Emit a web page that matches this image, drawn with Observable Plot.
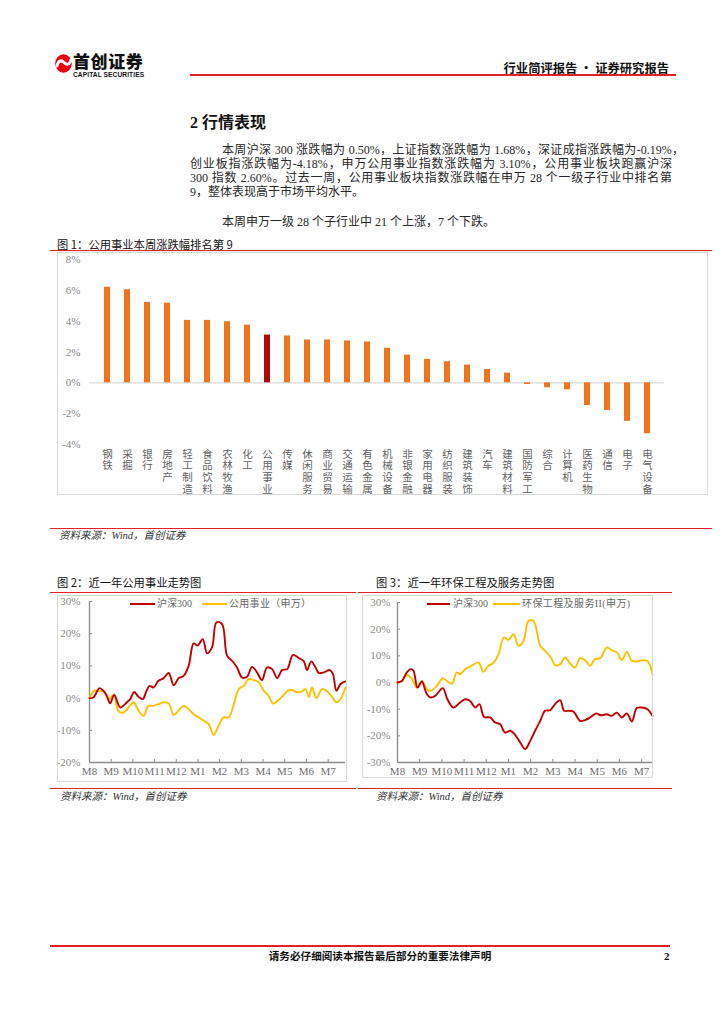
<!DOCTYPE html>
<html><head><meta charset="utf-8">
<script src="https://cdn.jsdelivr.net/npm/d3@7"></script>
<script src="https://cdn.jsdelivr.net/npm/@observablehq/plot@0.6"></script>
<style>
html,body{margin:0;padding:0;background:#fff;}
body{width:724px;height:1024px;position:relative;overflow:hidden;font-family:"Liberation Serif","Noto Sans CJK SC",serif;color:#222;}
.abs{position:absolute;white-space:nowrap;}
.rule{position:absolute;background:#e61e28;}
.frame{position:absolute;border:1px solid #d9d9d9;box-sizing:border-box;pointer-events:none;}
.plot{position:absolute;}
.para{position:absolute;font-size:12px;line-height:14px;height:14px;white-space:nowrap;color:#262626;}
.just{text-align:justify;text-align-last:justify;}
.figt{position:absolute;font-family:"Noto Sans CJK SC",sans-serif;font-size:11.3px;line-height:16px;color:#111;white-space:nowrap;}
.cap{position:absolute;font-size:10.5px;line-height:14px;font-style:italic;color:#333;white-space:nowrap;}
.leg{position:absolute;font-size:10px;line-height:12px;color:#666;white-space:nowrap;}
.sw{position:absolute;height:2px;}
</style>
</head><body>

<!-- header -->
<svg class="abs" style="left:52px;top:48px" width="22" height="28" viewBox="52 48 22 28">
  <ellipse cx="63.5" cy="63.5" rx="8.3" ry="9.3" fill="#e60012"/>
  <path d="M57 66 Q59 58 64 62.5 Q68.5 67 71 60" stroke="#fff" stroke-width="3" fill="none" stroke-linecap="round"/>
</svg>
<div class="abs" style="left:73px;top:51px;font-family:'Noto Sans CJK SC';font-weight:900;font-size:17px;line-height:20px;letter-spacing:0.6px;color:#111;">首创证券</div>
<div class="abs" style="left:73px;top:70px;font-family:'Liberation Sans';font-weight:bold;font-size:6.6px;line-height:9px;color:#111;letter-spacing:0.1px;">CAPITAL SECURITIES</div>
<div class="rule" style="left:190px;top:73.5px;width:486px;height:2.2px;"></div>
<div class="abs" style="right:55px;top:60px;font-family:'Noto Sans CJK SC';font-weight:bold;font-size:12.3px;line-height:16px;color:#111;">行业简评报告 · 证券研究报告</div>

<!-- section -->
<div class="abs" style="left:190px;top:114px;font-family:'Liberation Serif','Noto Sans CJK SC';font-weight:bold;font-size:16px;line-height:18px;color:#111;">2 行情表现</div>
<div class="para just" style="left:222px;top:143px;width:462px;">本周沪深 300 涨跌幅为 0.50%，上证指数涨跌幅为 1.68%，深证成指涨跌幅为-0.19%，</div>
<div class="para just" style="left:190px;top:157px;width:482px;">创业板指涨跌幅为-4.18%，申万公用事业指数涨跌幅为 3.10%，公用事业板块跑赢沪深</div>
<div class="para just" style="left:190px;top:171px;width:482px;">300 指数 2.60%。过去一周，公用事业板块指数涨跌幅在申万 28 个一级子行业中排名第</div>
<div class="para" style="left:190px;top:185px;">9，整体表现高于市场平均水平。</div>
<div class="para" style="left:222px;top:215px;">本周申万一级 28 个子行业中 21 个上涨，7 个下跌。</div>

<!-- figure 1 -->
<div class="figt" style="left:57px;top:236px;">图 1：公用事业本周涨跌幅排名第 9</div>
<div class="rule" style="left:50px;top:249.5px;width:662px;height:1.5px;"></div>
<div class="plot" id="bar" style="left:57px;top:252px;"></div>
<div class="frame" style="left:57px;top:252px;width:651px;height:243px;"></div>
<div class="rule" style="left:50px;top:527.5px;width:662px;height:1.3px;"></div>
<div class="cap" style="left:59px;top:529px;">资料来源：Wind，首创证券</div>

<!-- figure 2 -->
<div class="figt" style="left:57px;top:574px;">图 2：近一年公用事业走势图</div>
<div class="rule" style="left:50px;top:591.8px;width:306px;height:1.4px;"></div>
<div class="plot" id="line2" style="left:57px;top:595px;"></div>
<div class="frame" style="left:57px;top:595px;width:290px;height:187px;"></div>
<div class="sw" style="left:130px;top:602.5px;width:25px;background:#c00000;"></div>
<div class="leg" style="left:157px;top:597.5px;">沪深300</div>
<div class="sw" style="left:202px;top:602.5px;width:25px;background:#ffc000;"></div>
<div class="leg" style="left:229px;top:597.5px;letter-spacing:0.3px;">公用事业（申万）</div>
<div class="rule" style="left:50px;top:788px;width:306px;height:1.4px;"></div>
<div class="cap" style="left:60px;top:790px;">资料来源：Wind，首创证券</div>

<!-- figure 3 -->
<div class="figt" style="left:376px;top:574px;">图 3：近一年环保工程及服务走势图</div>
<div class="rule" style="left:358px;top:591.8px;width:314px;height:1.4px;"></div>
<div class="plot" id="line3" style="left:362px;top:595px;"></div>
<div class="frame" style="left:362px;top:595px;width:291px;height:183px;"></div>
<div class="sw" style="left:427px;top:602.5px;width:23px;background:#c00000;"></div>
<div class="leg" style="left:453px;top:597.5px;">沪深300</div>
<div class="sw" style="left:493px;top:602.5px;width:27px;background:#ffc000;"></div>
<div class="leg" style="left:522px;top:597.5px;letter-spacing:0.4px;">环保工程及服务II(申万)</div>
<div class="rule" style="left:358px;top:788px;width:314px;height:1.4px;"></div>
<div class="cap" style="left:376px;top:790px;">资料来源：Wind，首创证券</div>

<!-- footer -->
<div class="rule" style="left:50px;top:944.5px;width:620px;height:2.6px;"></div>
<div class="abs" style="left:262px;top:949px;width:236px;text-align:center;font-family:'Noto Sans CJK SC';font-weight:bold;font-size:10.6px;line-height:14px;color:#111;">请务必仔细阅读本报告最后部分的重要法律声明</div>
<div class="abs" style="left:664px;top:949px;font-weight:bold;font-size:11px;line-height:14px;color:#111;">2</div>

<script>
// ---------- Figure 1 data ----------
const barCategories = ["钢铁","采掘","银行","房地产","轻工制造","食品饮料","农林牧渔","化工","公用事业","传媒","休闲服务","商业贸易","交通运输","有色金属","机械设备","非银金融","家用电器","纺织服装","建筑装饰","汽车","建筑材料","国防军工","综合","计算机","医药生物","通信","电子","电气设备"];
const barValues = [6.20,6.04,5.22,5.17,4.05,4.05,3.96,3.74,3.10,3.04,2.78,2.78,2.72,2.65,2.24,1.80,1.52,1.37,1.15,0.87,0.63,-0.11,-0.32,-0.45,-1.47,-1.79,-2.50,-3.30];
const highlightCategory = "公用事业";
const barYTicks = [-4,-2,0,2,4,6,8];

// ---------- Figure 2 / 3 shared ----------
const monthTicks = [0,1,2,3,4,5,6,7,8,9,10,11];
const monthLabels = ["M8","M9","M10","M11","M12","M1","M2","M3","M4","M5","M6","M7"];

// ---------- Figure 2 data (x in months from M8) ----------
const f2HsX = [0,0.18,0.46,0.65,0.80,0.95,1.14,1.42,1.72,1.88,2.06,2.26,2.46,2.62,2.77,2.95,3.18,3.42,3.65,3.88,4.11,4.34,4.57,4.80,4.98,5.22,5.42,5.65,5.85,6.11,6.34,6.57,6.80,7.03,7.26,7.49,7.72,7.95,8.18,8.42,8.65,8.88,9.11,9.38,9.65,9.88,10.03,10.22,10.42,10.57,10.80,11.08,11.22,11.38,11.57,11.80];
const f2HsY = [0,0.2,3.1,2.2,0.7,-1.6,1.0,-2.9,-1.3,-0.3,1.9,0.4,-0.3,2.1,3.8,3.3,5.4,6.2,7.8,4.0,6.2,6.9,10.0,17.0,16.3,18.3,13.9,15.8,23.5,23.0,13.2,11.6,9.5,6.4,6.6,9.7,8.0,5.6,9.5,9.0,6.2,8.7,9.0,13.4,12.4,11.4,8.7,11.4,9.5,7.8,8.0,8.7,7.5,2.3,4.4,5.2];
const f2UtX = [0,0.22,0.42,0.65,0.88,1.11,1.34,1.57,1.80,2.03,2.26,2.49,2.72,2.95,3.18,3.42,3.65,3.88,4.11,4.34,4.57,4.80,5.03,5.26,5.49,5.72,5.95,6.18,6.42,6.65,6.88,7.11,7.34,7.57,7.80,8.03,8.26,8.46,8.68,8.92,9.14,9.34,9.57,9.80,9.95,10.11,10.26,10.46,10.72,10.92,11.15,11.38,11.57,11.80];
const f2UtY = [0,2.3,2.1,2.1,-0.3,1.0,-4.1,-4.5,-2.9,-1.3,-3.9,-5.5,-2.4,-2.4,-1.9,-1.3,-1.7,-5.2,-3.9,-2.4,-3.4,-5.0,-6.0,-7.0,-8.1,-11.4,-8.6,-6.0,-6.0,-1.9,2.8,3.8,5.9,5.6,4.9,2.3,0.7,-1.7,-0.8,0.7,2.3,2.5,1.8,2.1,2.8,0.4,3.3,0.0,2.8,2.3,0.7,-1.3,-0.3,3.3];
const f2YTicks = [-20,-10,0,10,20,30];

// ---------- Figure 3 data ----------
const f3HsX = [0,0.20,0.42,0.60,0.72,0.90,1.10,1.29,1.47,1.70,2.04,2.25,2.52,2.82,3.05,3.27,3.50,3.69,3.90,4.17,4.40,4.62,4.85,5.08,5.30,5.53,5.75,5.98,6.20,6.43,6.65,6.88,7.10,7.33,7.51,7.70,7.93,8.23,8.45,8.68,8.95,9.16,9.43,9.65,9.88,10.11,10.33,10.56,10.78,11.01,11.26,11.49];
const f3HsY = [0,0.6,3.8,5.0,4.4,-1.9,0.4,-3.8,-5.6,-5.0,-2.1,-6.3,-9.4,-7.5,-6.3,-6.9,-9.4,-8.1,-12.9,-13.1,-15.0,-15.6,-18.8,-18.1,-19.6,-22.5,-25.0,-21.9,-18.1,-14.4,-10.6,-10.4,-8.1,-6.6,-10.6,-10.6,-10.9,-14.4,-14.1,-13.1,-11.6,-12.3,-11.9,-12.5,-11.3,-13.1,-11.6,-14.6,-9.6,-9.4,-10.0,-12.5];
const f3EnvX = [0,0.20,0.42,0.65,0.87,1.10,1.32,1.50,1.77,2.04,2.22,2.45,2.67,2.82,3.05,3.27,3.65,3.87,4.10,4.32,4.55,4.80,5.00,5.23,5.45,5.68,5.90,6.13,6.43,6.65,6.91,7.10,7.33,7.55,7.78,8.00,8.23,8.45,8.68,8.90,9.13,9.43,9.65,9.88,10.11,10.33,10.56,10.78,11.08,11.26,11.38,11.49];
const f3EnvY = [0,0.6,2.9,1.3,-1.9,0.6,-2.5,-3.1,-1.3,1.6,0.6,-0.4,3.8,3.1,5.0,5.9,7.5,4.0,6.3,7.3,10.6,16.9,16.0,18.1,13.8,15.6,23.1,23.1,13.8,11.9,9.4,6.5,6.9,9.4,7.1,5.6,9.1,8.4,6.3,8.8,9.1,13.1,12.1,11.3,8.4,11.5,8.1,7.9,8.4,8.1,6.3,2.9];
const f3YTicks = [-30,-20,-10,0,10,20,30];

const RED = "#c00000", YELLOW = "#ffc000", ORANGE = "#ee7420", DARKRED = "#ae0a0a";
const AXIS_GRAY = "#8c8c8c";
const SERIF = '"Liberation Serif","Noto Sans CJK SC",serif';
const CJK = '"Noto Sans CJK SC",sans-serif';

// ---------- Figure 1 ----------
const barData = barCategories.map((c, i) => ({cat: c, value: barValues[i], kind: c === highlightCategory ? "hl" : "base"}));
const bar = Plot.plot({
  width: 651, height: 242,
  marginTop: 7, marginBottom: 50, marginLeft: 32, marginRight: 44,
  style: {fontFamily: SERIF, fontSize: "11px", background: "transparent", overflow: "visible"},
  x: {domain: barCategories, paddingInner: 0.71, paddingOuter: 0.36, label: null},
  y: {domain: [barYTicks[0], barYTicks[barYTicks.length-1]], label: null},
  color: {domain: ["base","hl"], range: [ORANGE, DARKRED]},
  marks: [
    Plot.ruleY([0], {stroke: "#d9d9d9", strokeWidth: 1.2}),
    Plot.barY(barData, {x: "cat", y: "value", fill: "kind"}),
    Plot.axisY({ticks: barYTicks, tickSize: 0, tickPadding: 9, tickFormat: d => d + "%", fill: "#8a8a8a", fontSize: 11, fontFamily: SERIF, label: null}),
    Plot.axisX({tickSize: 0, tickPadding: 4, fill: "#5f5f5f", fontSize: 10.5, fontFamily: CJK, label: null})
  ]
});
// category labels are written top-to-bottom, one character per line, as in the reference
d3.select(bar).selectAll('g[aria-label="x-axis tick label"] text')
  .attr("y", null).attr("dy", null)
  .attr("text-anchor", "start")
  .style("writing-mode", "vertical-rl")
  .style("letter-spacing", "1.2px");
document.getElementById("bar").append(bar);

// ---------- line chart builder ----------
function lineChart({width, height, mt, mb, ml, mr, series, yTicks, xStart, yPad}) {
  const marks = [
    Plot.ruleY([yTicks[0]], {stroke: AXIS_GRAY, strokeWidth: 1.3}),
    Plot.ruleX([xStart], {stroke: AXIS_GRAY, strokeWidth: 1.3}),
    Plot.axisX({ticks: monthTicks, tickSize: -3, tickPadding: 7.5, tickFormat: d => monthLabels[d], stroke: AXIS_GRAY, fill: "#6e6e6e", fontSize: 11, fontFamily: SERIF, label: null}),
    Plot.axisY({ticks: yTicks, tickSize: -3, tickPadding: yPad, tickFormat: d => d + "%", stroke: AXIS_GRAY, fill: "#8a8a8a", fontSize: 11, fontFamily: SERIF, label: null})
  ];
  for (const s of series) {
    marks.push(Plot.line(d3.zip(s.x, s.y), {x: d => d[0], y: d => d[1], stroke: s.color, strokeWidth: 1.9, curve: "catmull-rom"}));
  }
  return Plot.plot({
    width, height, marginTop: mt, marginBottom: mb, marginLeft: ml, marginRight: mr,
    style: {fontFamily: SERIF, fontSize: "11px", background: "transparent", overflow: "visible"},
    x: {label: null},
    y: {domain: [yTicks[0], yTicks[yTicks.length-1]], label: null},
    marks
  });
}

document.getElementById("line2").append(lineChart({
  width: 290, height: 186, mt: 6, mb: 19, ml: 32, mr: 2, yPad: 12,
  yTicks: f2YTicks, xStart: d3.min(f2HsX),
  series: [{x: f2UtX, y: f2UtY, color: YELLOW}, {x: f2HsX, y: f2HsY, color: RED}]
}));

document.getElementById("line3").append(lineChart({
  width: 291, height: 182, mt: 7, mb: 15, ml: 35, mr: 1, yPad: 10,
  yTicks: f3YTicks, xStart: d3.min(f3HsX),
  series: [{x: f3EnvX, y: f3EnvY, color: YELLOW}, {x: f3HsX, y: f3HsY, color: RED}]
}));
</script>
</body></html>
